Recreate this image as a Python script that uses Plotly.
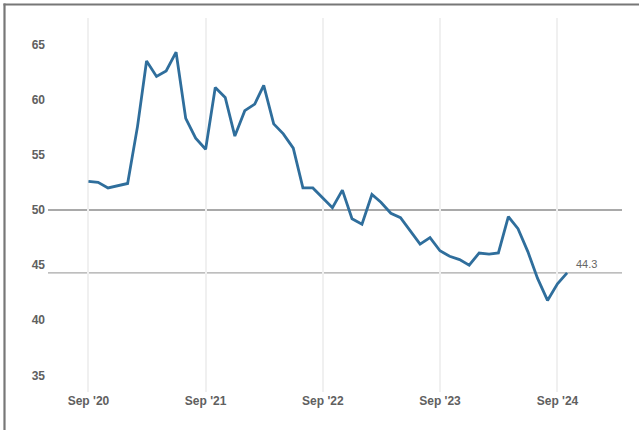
import plotly.graph_objects as go
import pandas as pd

# ---- data ----
dates = pd.date_range("2020-09-01", "2024-10-01", freq="MS")
values = [52.6, 52.5, 52.0, 52.2, 52.4, 57.6, 63.5, 62.1, 62.6, 64.3, 58.3, 56.5,
          55.5, 61.1, 60.2, 56.7, 59.0, 59.6, 61.3, 57.8, 56.9, 55.6, 52.0, 52.0,
          51.1, 50.2, 51.8, 49.2, 48.7, 51.4, 50.7, 49.7, 49.3, 48.1, 46.9, 47.5,
          46.3, 45.8, 45.5, 45.0, 46.1, 46.0, 46.1, 49.4, 48.3, 46.2, 43.8, 41.8,
          43.3, 44.3]
y_ticks = [35, 40, 45, 50, 55, 60, 65]
x_tick_dates = ["2020-09-01", "2021-09-01", "2022-09-01", "2023-09-01", "2024-09-01"]
x_tick_labels = ["Sep '20", "Sep '21", "Sep '22", "Sep '23", "Sep '24"]
reference_level = 50
last_value = values[-1]

W, H = 639, 430
L, R, T, B = 48, 17, 18, 38
pw, ph = W - L - R, H - T - B

fig = go.Figure()
fig.add_trace(go.Scatter(x=dates, y=values, mode="lines",
                         line=dict(color="#2f6e9c", width=2.8),
                         hoverinfo="skip", showlegend=False))

fig.add_hline(y=reference_level, line=dict(color="#8c8c8c", width=1.6), layer="below")
fig.add_hline(y=last_value, line=dict(color="#a8a8a8", width=1.4), layer="below")

fig.add_annotation(x=dates[-1], y=last_value, text=f"{last_value:.1f}",
                   showarrow=False, xanchor="left", yanchor="middle",
                   xshift=7, yshift=9,
                   font=dict(family="Liberation Sans, Arial", size=11, color="#666"))

# frame: top and left border lines (pixel -> paper)
def px_x(px):
    return (px - L) / pw
def px_y(py):
    return 1 - (py - T) / ph
fig.add_shape(type="line", xref="paper", yref="paper",
              x0=px_x(3.5), x1=px_x(639), y0=px_y(4.5), y1=px_y(4.5),
              line=dict(color="#777", width=2.2))
fig.add_shape(type="line", xref="paper", yref="paper",
              x0=px_x(4.5), x1=px_x(4.5), y0=px_y(3.5), y1=px_y(430),
              line=dict(color="#777", width=2.2))

fig.update_layout(
    width=W, height=H,
    margin=dict(l=L, r=R, t=T, b=B),
    paper_bgcolor="white", plot_bgcolor="white",
    font=dict(family="Liberation Sans, Arial", size=11, color="#666"),
    xaxis=dict(range=["2020-04-28", "2025-03-21"],
               tickvals=x_tick_dates, ticktext=x_tick_labels,
               showgrid=True, gridcolor="#f0f0f0", gridwidth=1.5,
               zeroline=False, showline=False, ticks="",
               tickfont=dict(size=12, color="#606060", weight="bold")),
    yaxis=dict(range=[33.5, 67.4], tickvals=y_ticks,
               showgrid=False, zeroline=False, showline=False, ticks="",
               ticklabelstandoff=2,
               tickfont=dict(size=12, color="#606060", weight="bold")),
)

fig.write_html("out.html", config={"displayModeBar": False},
               post_script="document.body.style.margin='0';")
